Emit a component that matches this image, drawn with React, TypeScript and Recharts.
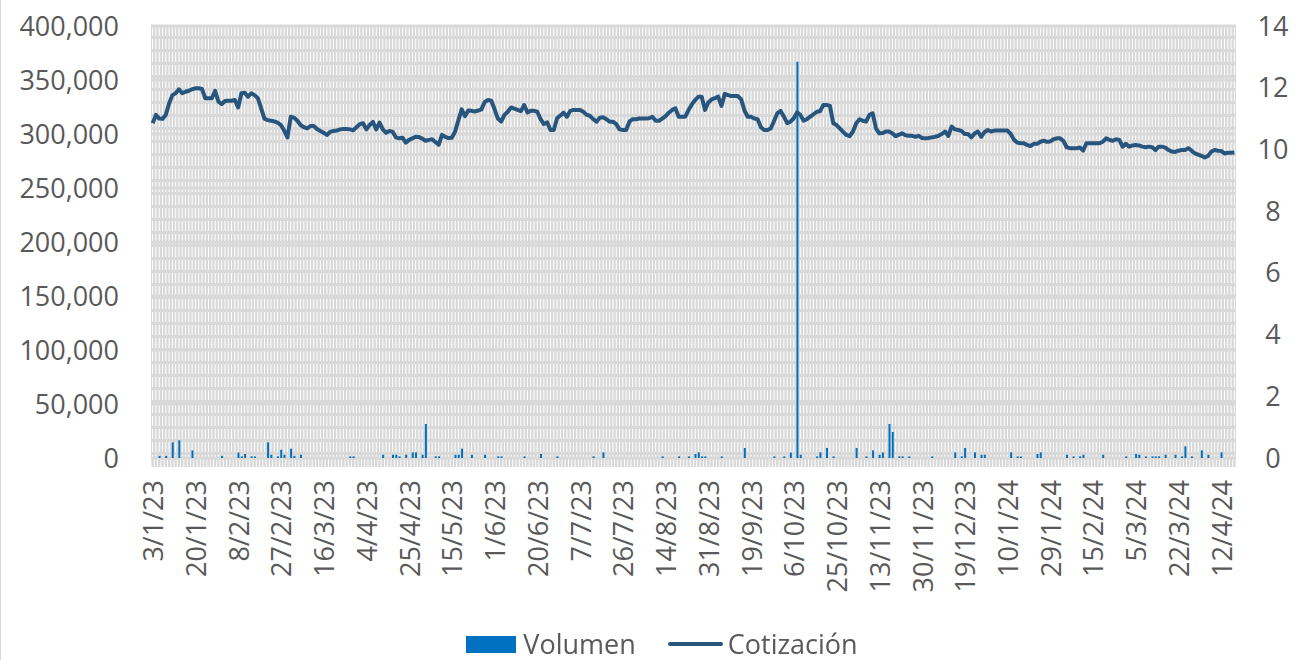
import {
  ComposedChart,
  Bar,
  Line,
  XAxis,
  YAxis,
  CartesianGrid,
  Legend,
} from "recharts";

// Trading days: weekdays from 3/1/23, minus market holidays
const firstDay = "2023-01-03";
const holidays = [
  "2023-04-07", "2023-04-10", "2023-05-01", "2023-12-25",
  "2023-12-26", "2024-01-01", "2024-03-29", "2024-04-01",
];

const tickLabels = [
  "3/1/23", "20/1/23", "8/2/23", "27/2/23", "16/3/23", "4/4/23", "25/4/23",
  "15/5/23", "1/6/23", "20/6/23", "7/7/23", "26/7/23", "14/8/23", "31/8/23",
  "19/9/23", "6/10/23", "25/10/23", "13/11/23", "30/11/23", "19/12/23",
  "10/1/24", "29/1/24", "15/2/24", "5/3/24", "22/3/24", "12/4/24",
];

// Cotización (right axis, €)
const cotizacion = [
  10.85, 11.12, 11.0, 10.99, 11.12, 11.49, 11.76, 11.82, 11.95, 11.82,
  11.87, 11.9, 11.95, 11.98, 11.98, 11.96, 11.66, 11.66, 11.66, 11.9,
  11.55, 11.47, 11.57, 11.58, 11.58, 11.6, 11.36, 11.82, 11.84, 11.71,
  11.82, 11.76, 11.66, 11.33, 11.0, 10.95, 10.93, 10.91, 10.87, 10.79,
  10.61, 10.39, 11.06, 11.03, 10.93, 10.79, 10.72, 10.68, 10.76, 10.76,
  10.66, 10.6, 10.54, 10.47, 10.57, 10.6, 10.61, 10.65, 10.66, 10.66,
  10.65, 10.62, 10.72, 10.82, 10.85, 10.65, 10.79, 10.89, 10.65, 10.87,
  10.65, 10.54, 10.6, 10.57, 10.39, 10.36, 10.38, 10.22, 10.31, 10.36,
  10.41, 10.4, 10.35, 10.28, 10.31, 10.33, 10.24, 10.15, 10.47, 10.41,
  10.37, 10.38, 10.58, 10.95, 11.3, 11.08, 11.26, 11.25, 11.23, 11.26,
  11.3, 11.54, 11.6, 11.58, 11.3, 11.0, 10.9, 11.12, 11.22, 11.36,
  11.32, 11.28, 11.24, 11.44, 11.2, 11.25, 11.25, 11.22, 10.98, 10.82,
  10.88, 10.63, 10.63, 11.01, 11.1, 11.19, 11.06, 11.25, 11.28, 11.28,
  11.28, 11.22, 11.12, 11.09, 10.98, 10.9, 11.03, 11.04, 10.98, 10.9,
  10.9, 10.82, 10.65, 10.63, 10.63, 10.9, 10.98, 10.98, 11.0, 11.0,
  11.0, 11.01, 11.06, 10.93, 10.93, 11.0, 11.08, 11.19, 11.28, 11.33,
  11.06, 11.06, 11.06, 11.28, 11.46, 11.6, 11.71, 11.71, 11.28, 11.52,
  11.62, 11.66, 11.71, 11.41, 11.8, 11.76, 11.73, 11.73, 11.73, 11.62,
  11.26, 11.06, 11.06, 11.0, 10.98, 10.72, 10.63, 10.63, 10.68, 10.92,
  11.17, 11.25, 11.06, 10.85, 10.9, 11.01, 11.2, 11.12, 10.93, 10.98,
  11.06, 11.14, 11.22, 11.24, 11.44, 11.44, 11.41, 10.85, 10.79, 10.68,
  10.57, 10.47, 10.43, 10.58, 10.85, 10.98, 10.93, 10.9, 11.12, 11.17,
  10.68, 10.52, 10.53, 10.58, 10.58, 10.52, 10.43, 10.48, 10.52, 10.46,
  10.44, 10.44, 10.41, 10.44, 10.37, 10.36, 10.37, 10.39, 10.41, 10.44,
  10.5, 10.58, 10.44, 10.74, 10.65, 10.63, 10.6, 10.5, 10.5, 10.39,
  10.52, 10.58, 10.41, 10.56, 10.63, 10.58, 10.61, 10.61, 10.61, 10.61,
  10.61, 10.5, 10.31, 10.22, 10.2, 10.2, 10.14, 10.11, 10.18, 10.18,
  10.25, 10.28, 10.25, 10.26, 10.33, 10.36, 10.36, 10.28, 10.07, 10.04,
  10.04, 10.04, 10.06, 9.96, 10.2, 10.2, 10.2, 10.2, 10.2, 10.25,
  10.36, 10.31, 10.28, 10.33, 10.31, 10.09, 10.18, 10.09, 10.13, 10.14,
  10.13, 10.09, 10.07, 10.09, 10.07, 9.98, 10.09, 10.09, 10.06, 9.98,
  9.93, 9.92, 9.96, 9.98, 9.98, 10.04, 9.96, 9.87, 9.83, 9.79,
  9.74, 9.79, 9.93, 9.98, 9.96, 9.95, 9.87, 9.89, 9.89, 9.9,
];

// Volumen (left axis, shares)
const volumen = [
  0, 0, 2000, 0, 2000, 0, 14500, 0, 16400, 0,
  0, 0, 7000, 0, 0, 0, 0, 0, 0, 0,
  0, 2000, 0, 0, 0, 0, 5000, 1500, 3700, 0,
  1500, 1500, 0, 0, 0, 14500, 3000, 0, 1500, 7700,
  3000, 0, 8650, 2000, 0, 3000, 0, 0, 0, 0,
  0, 0, 0, 0, 0, 0, 0, 0, 0, 0,
  1500, 1500, 0, 0, 0, 0, 0, 0, 0, 0,
  3000, 0, 0, 3000, 3000, 1500, 0, 3000, 0, 5200,
  5200, 0, 3000, 31500, 0, 0, 1500, 1500, 0, 0,
  0, 0, 3000, 3000, 8650, 0, 0, 3000, 0, 0,
  0, 3000, 0, 0, 0, 1500, 1500, 0, 0, 0,
  0, 0, 0, 1500, 0, 0, 0, 0, 3700, 0,
  0, 0, 0, 1500, 0, 0, 0, 0, 0, 0,
  0, 0, 0, 0, 1500, 0, 0, 5200, 0, 0,
  0, 0, 0, 0, 0, 0, 0, 0, 0, 0,
  0, 0, 0, 0, 0, 1500, 0, 0, 0, 0,
  1500, 0, 0, 1500, 0, 3700, 5200, 1500, 1500, 0,
  0, 0, 0, 1500, 0, 0, 0, 0, 0, 0,
  9300, 0, 0, 0, 0, 0, 0, 0, 0, 1500,
  0, 0, 1500, 0, 5000, 0, 367000, 3000, 0, 0,
  0, 0, 1500, 5200, 0, 9300, 0, 1500, 0, 0,
  0, 0, 0, 0, 9300, 0, 0, 1500, 0, 7100,
  0, 3000, 5200, 0, 31500, 24100, 0, 1500, 1500, 0,
  1500, 0, 0, 0, 0, 0, 0, 1500, 0, 0,
  0, 0, 0, 0, 5200, 0, 1500, 9300, 0, 0,
  5200, 0, 3000, 3000, 0, 0, 0, 0, 0, 0,
  0, 5200, 0, 1500, 1500, 0, 0, 0, 0, 3700,
  5200, 0, 0, 0, 0, 0, 0, 0, 3000, 0,
  1500, 0, 1500, 3000, 0, 0, 0, 0, 0, 3000,
  0, 0, 0, 0, 0, 0, 1500, 0, 0, 3700,
  3000, 0, 1500, 0, 1500, 1500, 1500, 0, 3000, 0,
  0, 3000, 0, 1500, 10800, 0, 1500, 0, 0, 7100,
  0, 3000, 0, 0, 0, 5200, 0, 0, 0, 0,
];

function tradingDays(start: string, count: number, skip: string[]): string[] {
  const out: string[] = [];
  const d = new Date(start + "T00:00:00Z");
  while (out.length < count) {
    const iso = d.toISOString().slice(0, 10);
    const wd = d.getUTCDay();
    if (wd !== 0 && wd !== 6 && !skip.includes(iso)) {
      const yy = String(d.getUTCFullYear()).slice(2);
      out.push(`${d.getUTCDate()}/${d.getUTCMonth() + 1}/${yy}`);
    }
    d.setUTCDate(d.getUTCDate() + 1);
  }
  return out;
}

const dates = tradingDays(firstDay, cotizacion.length, holidays);
const data = dates.map((date, i) => ({
  date,
  volumen: volumen[i] ?? 0,
  cotizacion: cotizacion[i],
}));

const FONT = "'Open Sans', Lato, sans-serif";
const TEXT = "#595959";
const BAR = "#0070C0";
const LINE = "#28557d";
const tickSet = new Set(tickLabels);

function DateTick(props: any) {
  const { x, y, payload } = props;
  if (!tickSet.has(payload.value)) return <g />;
  return (
    <text
      x={x}
      y={y}
      transform={`rotate(-90 ${x} ${y})`}
      textAnchor="end"
      dominantBaseline="central"
      fill={TEXT}
      fontSize={27}
      fontFamily={FONT}
    >
      {payload.value}
    </text>
  );
}

function LegendBox() {
  return (
    <div
      style={{
        display: "flex",
        justifyContent: "center",
        alignItems: "center",
        height: 36,
        lineHeight: "36px",
        paddingLeft: 22,
        fontFamily: FONT,
        fontSize: 27,
        color: TEXT,
      }}
    >
      <span style={{ width: 50, height: 17, background: BAR, marginRight: 7, flex: "none" }} />
      <span style={{ marginRight: 32 }}>Volumen</span>
      <span
        style={{
          width: 55,
          height: 4,
          borderRadius: 2,
          background: LINE,
          marginRight: 5,
          flex: "none",
        }}
      />
      <span>Cotización</span>
    </div>
  );
}

// one white dashed gridline per trading day
const gridX = ({ offset }: any) =>
  dates.map((_, i) => offset.left + ((i + 0.5) * offset.width) / dates.length);

export default function App() {
  return (
    <div
      style={{
        position: "fixed",
        left: 0,
        top: 0,
        width: 1301,
        height: 660,
        background: "#fff",
        borderLeft: "1px solid #d9d9d9",
        boxSizing: "border-box",
      }}
    >
      <ComposedChart
        width={1300}
        height={662}
        data={data}
        margin={{ top: 26, right: 0, bottom: 0, left: 0 }}
        barSize={2}
      >
        <CartesianGrid
          yAxisId="left"
          horizontal={false}
          fill="#d9d9d9"
          fillOpacity={1}
          stroke="#ffffff"
          strokeWidth={1}
          strokeDasharray="10 3"
          verticalCoordinatesGenerator={gridX}
        />
        <CartesianGrid yAxisId="left" vertical={false} stroke="#d9d9d9" strokeWidth={3} />
        <XAxis
          dataKey="date"
          interval={0}
          axisLine={false}
          tickLine={{ stroke: "#d9d9d9", strokeWidth: 2.4 }}
          tickSize={9}
          tickMargin={13}
          height={168}
          tick={<DateTick />}
        />
        <YAxis
          yAxisId="left"
          domain={[0, 400000]}
          ticks={[0, 50000, 100000, 150000, 200000, 250000, 300000, 350000, 400000]}
          tickFormatter={(v: number) => v.toLocaleString("en-US")}
          width={150}
          axisLine={false}
          tickLine={false}
          tickSize={0}
          tickMargin={32}
          tick={{ fill: TEXT, fontSize: 27, fontFamily: FONT }}
        />
        <YAxis
          yAxisId="right"
          orientation="right"
          domain={[0, 14]}
          ticks={[0, 2, 4, 6, 8, 10, 12, 14]}
          width={65}
          axisLine={false}
          tickLine={false}
          tickSize={0}
          tickMargin={37}
          tick={{ fill: TEXT, fontSize: 27, fontFamily: FONT, textAnchor: "middle" }}
        />
        <Legend verticalAlign="bottom" content={<LegendBox />} />
        <Bar
          yAxisId="left"
          dataKey="volumen"
          name="Volumen"
          fill={BAR}
          isAnimationActive={false}
        />
        <Line
          yAxisId="right"
          dataKey="cotizacion"
          name="Cotización"
          type="linear"
          stroke={LINE}
          strokeWidth={4}
          strokeLinejoin="round"
          dot={false}
          activeDot={false}
          isAnimationActive={false}
        />
      </ComposedChart>
    </div>
  );
}
